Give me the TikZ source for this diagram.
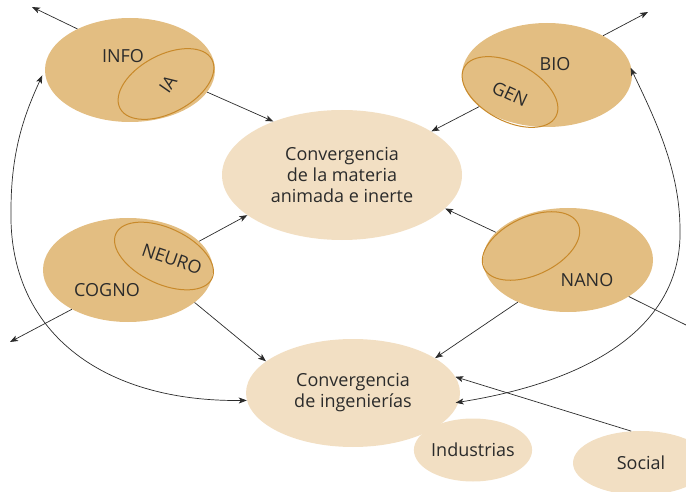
\documentclass[tikz,border=0pt]{standalone}
\usepackage{fontspec}
\setmainfont{Open Sans}
\usetikzlibrary{arrows.meta,shapes.geometric}

\definecolor{fieldtan}{HTML}{E3BE82}
\definecolor{palefill}{HTML}{F2DFC3}
\definecolor{ringline}{HTML}{C8892A}
\definecolor{ink}{HTML}{2B2B2B}

\begin{document}
\begin{tikzpicture}[x=1pt,y=-1pt,
  every node/.style={text=ink, font=\fontsize{18}{21}\selectfont},
  field/.style={ellipse, fill=fieldtan, inner sep=0pt, minimum width=170pt, minimum height=104pt},
  ring/.style={ellipse, draw=ringline, line width=1pt, inner sep=0pt, minimum width=104pt, minimum height=58pt},
  hub/.style={ellipse, fill=palefill, inner sep=0pt, align=center},
  tag/.style={inner sep=0pt},
  tip/.style={-{Stealth[length=8pt,width=6pt,inset=2pt]}},
  conn/.style={draw=ink, line width=0.7pt, tip},
  link/.style={draw=ink, line width=0.7pt, {Stealth[length=8pt,width=6pt,inset=2pt]}-{Stealth[length=8pt,width=6pt,inset=2pt]}}
]
\useasboundingbox (0,0) rectangle (686,492);
\clip (0,0) rectangle (686,492);

% central convergence fields
\node[hub, minimum width=240pt, minimum height=130pt] (mat) at (342,175)
  {Convergencia\\de la materia\\animada e inerte};
\node[hub, minimum width=214pt, minimum height=108pt] (ing) at (353,393)
  {Convergencia\\de ingenierías};
\node[hub, minimum width=114pt, minimum height=63pt] (ind) at (473,450) {Industrias};
\node[hub, minimum width=136pt, minimum height=64pt] (soc) at (641,463) {Social};

% the four disciplines with their overlapping sub-fields
\node[field] (info) at (130,70) {};
\node[ring, rotate=28] (ia) at (166,84) {};
\node[tag] (infot) at (123,56) {INFO};
\node[tag, rotate=55] (iat) at (168,84) {IA};

\node[field] (bio) at (547,75) {};
\node[ring, rotate=-28] (gen) at (510,92) {};
\node[tag] (biot) at (555,64) {BIO};
\node[tag, rotate=-25] (gent) at (510,94) {GEN};

\node[field] (cogno) at (128,270) {};
\node[ring, rotate=-25, minimum width=106pt, minimum height=56pt] (neuro) at (164,256) {};
\node[tag] (cognot) at (107,290) {COGNO};
\node[tag, rotate=-19] (neurot) at (172,259) {NEURO};

\node[field] (nano) at (568,260) {};
\node[ring, rotate=25] (nsub) at (531,246) {};
\node[tag] (nanot) at (587,280) {NANO};

% free ends leaving the picture
\coordinate (infoout) at (32,7);
\coordinate (bioout) at (648,12);
\coordinate (cognoout) at (10,342);
\coordinate (nanoout) at (690,327);
% turning points of the two long arcs
\coordinate (lturn) at (11,210);
\coordinate (rturn) at (680,230);

% connectors
\draw[conn] (info.142) -- (infoout);
\draw[conn] (info.-16) -- (mat.142);
\draw[conn] (bio.35) -- (bioout);
\draw[conn] (bio.205) -- (mat.26);
\draw[conn] (cogno.22) -- (mat.203);
\draw[conn] (cogno.215) -- (cognoout);
\draw[conn] (cogno.-26) -- (ing.160);
\draw[conn] (nano.159) -- (mat.-18);
\draw[conn] (nano.220) -- (ing.23);
\draw[draw=ink, line width=0.7pt] (nano.-31) -- (nanoout);
\draw[conn] (soc.107) -- (ing.9);

% long two-way arcs
\draw[link, shorten >=6pt] (ing.184) .. controls (100,402) and (8,330) .. (lturn)
  .. controls (11,150) and (25,113) .. (info.180);
\draw[link, shorten >=-3pt, shorten <=-3pt] (ing.-5) .. controls (610,378) and (682,315) .. (rturn)
  .. controls (680,170) and (655,119) .. (bio.3);
\end{tikzpicture}
\end{document}
